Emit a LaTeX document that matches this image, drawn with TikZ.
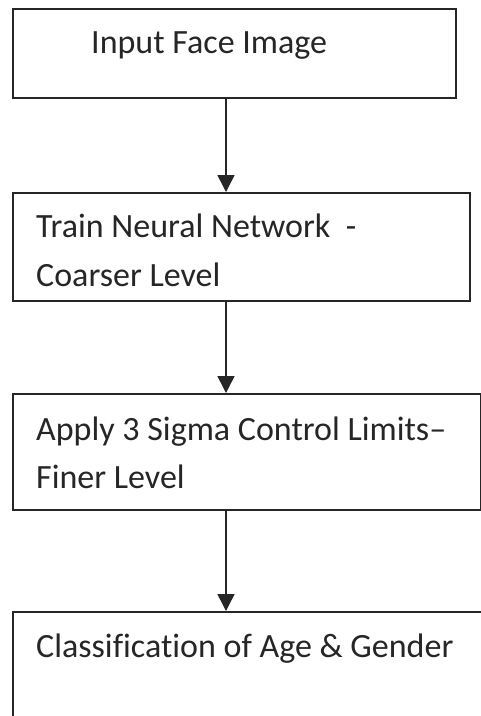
\documentclass[tikz,border=0pt]{standalone}
\usepackage{fontspec}
\setmainfont{Carlito}[Ligatures=NoCommon]
\usetikzlibrary{arrows.meta}
\begin{document}
\begin{tikzpicture}[x=1pt,y=-1pt,
  box/.style={draw=black!85,line width=1.8pt,inner sep=0pt,anchor=north west},
  lbl/.style={anchor=base west,inner sep=0pt,text=black!85,font=\fontsize{34}{49}\selectfont},
  flow/.style={draw=black!85,line width=1.5pt,-{Triangle[width=17pt,length=17pt]}}]
\useasboundingbox (0,0) rectangle (481,716);
\clip (0,0) rectangle (481,716);
\fill[white] (0,0) rectangle (481,716);
\node[box,minimum width=443pt,minimum height=89pt] (b1) at (12,8) {};
\node[box,minimum width=457pt,minimum height=108pt] (b2) at (12,192) {};
\node[box,minimum width=468pt,minimum height=116pt] (b3) at (12,393) {};
\node[box,minimum width=480pt,minimum height=130pt] (b4) at (12,611) {};
\node[lbl] (t1) at (91,53) {Input Face Image};
\node[lbl] (t2a) at (36,237) {Train Neural Network\ \ -};
\node[lbl] (t2b) at (36,286) {Coarser Level};
\node[lbl] (t3a) at (36,440) {Apply 3 Sigma Control Limits–};
\node[lbl] (t3b) at (36,488) {Finer Level};
\node[lbl] (t4) at (36,657) {Classification of Age \& Gender};
\coordinate (a1) at (226,97);
\coordinate (e1) at (226,192);
\coordinate (a2) at (226,300);
\coordinate (e2) at (226,393);
\coordinate (a3) at (226,509);
\coordinate (e3) at (226,611);
\draw[flow] (a1) -- (e1);
\draw[flow] (a2) -- (e2);
\draw[flow] (a3) -- (e3);
\end{tikzpicture}
\end{document}
